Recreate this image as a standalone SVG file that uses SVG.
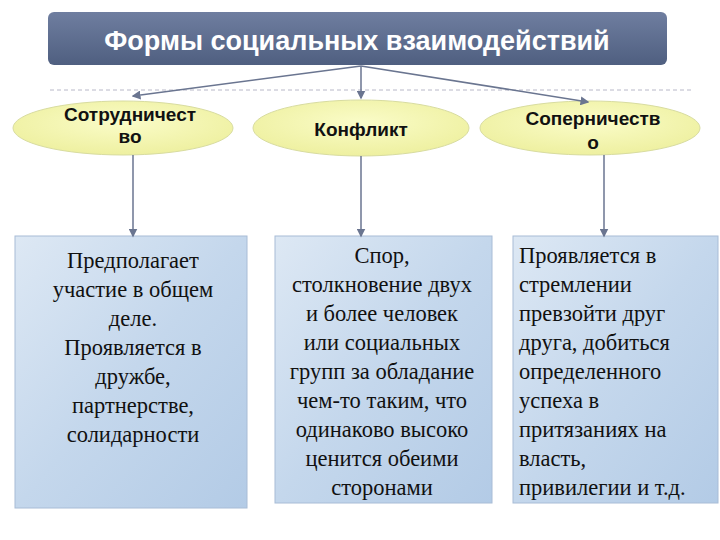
<svg xmlns="http://www.w3.org/2000/svg" width="720" height="540" viewBox="0 0 720 540">
<defs>
<linearGradient id="tg" x1="0" y1="0" x2="0" y2="1"><stop offset="0" stop-color="#6f7ea0"/><stop offset="1" stop-color="#4f5f80"/></linearGradient>
<radialGradient id="eg" cx="0.5" cy="0.4" r="0.6"><stop offset="0" stop-color="#fafcc8"/><stop offset="1" stop-color="#eef0a0"/></radialGradient>
<linearGradient id="bg" x1="0" y1="0" x2="1" y2="1"><stop offset="0" stop-color="#dde8f4"/><stop offset="0.5" stop-color="#c4d7ec"/><stop offset="1" stop-color="#b3cbe6"/></linearGradient>
<marker id="ar" markerWidth="6" markerHeight="6" refX="5" refY="3" orient="auto"><path d="M0,0L6,3L0,6z" fill="#6a7590"/></marker>
</defs>
<style>
.ell{fill:url(#eg);stroke:#d8dca0;stroke-width:1}
.box{fill:url(#bg);stroke:#a8bcd6;stroke-width:1}
.h{font-family:"Liberation Sans",Arial,sans-serif;font-weight:bold;font-size:19px;fill:#111;text-anchor:middle}
.t{font-family:"Liberation Serif","Times New Roman","DejaVu Serif",serif;font-size:22.5px;fill:#111}
.c{text-anchor:middle}
.ln{stroke:#6a7590;stroke-width:1.5;fill:none}
</style>
<rect width="720" height="540" fill="#fff"/>
<line x1="50" y1="90" x2="692" y2="90" stroke="#b8b8c8" stroke-dasharray="4,3"/>
<g id="title">
<rect x="48" y="12" width="619" height="53" rx="6" fill="url(#tg)"/>
<text x="357" y="50" font-family="'Liberation Sans',Arial,sans-serif" font-weight="bold" font-size="27" fill="#fff" text-anchor="middle">Формы социальных взаимодействий</text>
</g>
<g id="n1"><ellipse class="ell" cx="123" cy="128" rx="110" ry="27"/>
<text class="h" x="130" y="121">Сотрудничест</text><text class="h" x="130" y="143">во</text></g>
<g id="n2"><ellipse class="ell" cx="361" cy="128" rx="108" ry="28"/>
<text class="h" x="361" y="136">Конфликт</text></g>
<g id="n3"><ellipse class="ell" cx="590" cy="128" rx="110" ry="27"/>
<text class="h" x="593" y="125">Соперничеств</text><text class="h" x="593" y="149">о</text></g>
<g id="b1"><rect class="box" x="15" y="236" width="232" height="272"/>
<text class="t c" font-family="Liberation Serif, serif" x="133" y="268"><tspan x="133">Предполагает</tspan><tspan x="133" dy="29">участие в общем</tspan><tspan x="133" dy="29">деле.</tspan><tspan x="133" dy="29">Проявляется в</tspan><tspan x="133" dy="29">дружбе,</tspan><tspan x="133" dy="29">партнерстве,</tspan><tspan x="133" dy="29">солидарности</tspan></text></g>
<g id="b2"><rect class="box" x="275" y="236" width="217" height="267"/>
<text class="t c" font-family="Liberation Serif, serif" x="382" y="263"><tspan x="382">Спор,</tspan><tspan x="382" dy="29">столкновение двух</tspan><tspan x="382" dy="29">и более человек</tspan><tspan x="382" dy="29">или социальных</tspan><tspan x="382" dy="29">групп за обладание</tspan><tspan x="382" dy="29">чем-то таким, что</tspan><tspan x="382" dy="29">одинаково высоко</tspan><tspan x="382" dy="29">ценится обеими</tspan><tspan x="382" dy="29">сторонами</tspan></text></g>
<g id="b3"><rect class="box" x="513" y="236" width="205" height="267"/>
<text class="t" font-family="Liberation Serif, serif" x="519" y="263"><tspan x="519">Проявляется в</tspan><tspan x="519" dy="29">стремлении</tspan><tspan x="519" dy="29">превзойти друг</tspan><tspan x="519" dy="29">друга, добиться</tspan><tspan x="519" dy="29">определенного</tspan><tspan x="519" dy="29">успеха в</tspan><tspan x="519" dy="29">притязаниях на</tspan><tspan x="519" dy="29">власть,</tspan><tspan x="519" dy="29">привилегии и т.д.</tspan></text></g>
<g id="connectors">
<line class="ln" x1="361" y1="66" x2="133" y2="96" marker-end="url(#ar)"/>
<line class="ln" x1="361" y1="66" x2="361" y2="98" marker-end="url(#ar)"/>
<line class="ln" x1="361" y1="66" x2="588" y2="102" marker-end="url(#ar)"/>
<line class="ln" x1="133" y1="155" x2="133" y2="236" marker-end="url(#ar)"/>
<line class="ln" x1="361" y1="156" x2="361" y2="236" marker-end="url(#ar)"/>
<line class="ln" x1="604" y1="155" x2="604" y2="236" marker-end="url(#ar)"/>
</g>
</svg>
